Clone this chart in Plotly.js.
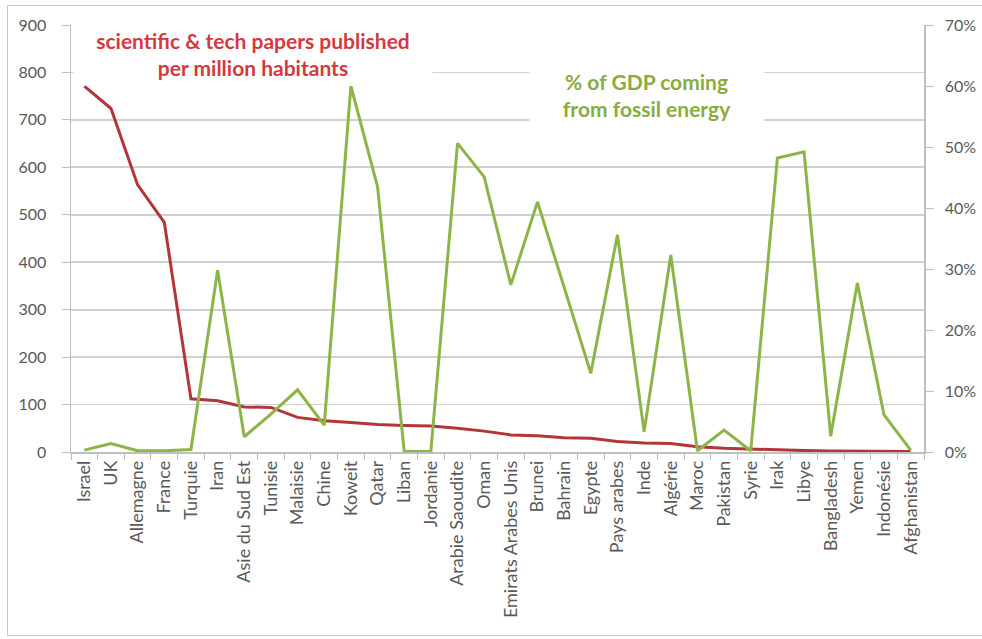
<!DOCTYPE html>
<html>
<head>
<meta charset="utf-8">
<script src="https://cdn.plot.ly/plotly-3.0.1.min.js"></script>
<style>
  html, body { margin: 0; padding: 0; background: #fff; }
  #wrap { position: relative; width: 982px; height: 639px; }
  #chart { position: absolute; left: 0; top: 0; width: 982px; height: 639px; }
  #frame { position: absolute; left: 7px; top: 5px; width: 985px; height: 629px;
           border: 1px solid #c8c8c8; pointer-events: none; }
</style>
</head>
<body>
<div id="wrap">
  <div id="chart"></div>
  <div id="frame"></div>
</div>
<script>
const countries = ["Israel", "UK", "Allemagne", "France", "Turquie", "Iran", "Asie du Sud Est", "Tunisie",
  "Malaisie", "Chine", "Koweit", "Qatar", "Liban", "Jordanie", "Arabie Saoudite", "Oman",
  "Emirats Arabes Unis", "Brunei", "Bahrain", "Egypte", "Pays arabes", "Inde", "Algérie", "Maroc",
  "Pakistan", "Syrie", "Irak", "Libye", "Bangladesh", "Yemen", "Indonésie", "Afghanistan"];

const papersPerMillion = [771, 724, 563, 484, 112, 108, 95, 94,
  73, 66, 62, 58, 56, 55, 50, 44,
  36, 34, 30, 29, 22, 19, 18, 11,
  8, 6, 4, 3, 2, 2, 1, 1];

const fossilGdpShare = [0.003, 0.014, 0.002, 0.002, 0.004, 0.298, 0.025, 0.062,
  0.102, 0.044, 0.600, 0.435, 0.001, 0.001, 0.506, 0.451,
  0.274, 0.410, 0.270, 0.129, 0.356, 0.033, 0.323, 0.002,
  0.036, 0.002, 0.482, 0.492, 0.026, 0.277, 0.061, 0.003];

const leftTicks = [0, 100, 200, 300, 400, 500, 600, 700, 800, 900];
const rightTicks = [0, 0.1, 0.2, 0.3, 0.4, 0.5, 0.6, 0.7];

const redLine = "#b23639";
const greenLine = "#8db449";
const tickGray = "#595959";
const font = "Lato, 'Open Sans', sans-serif";

const traces = [
  {
    x: countries, y: papersPerMillion, type: "scatter", mode: "lines",
    line: { color: redLine, width: 3 }, yaxis: "y", hoverinfo: "x+y"
  },
  {
    x: countries, y: fossilGdpShare, type: "scatter", mode: "lines",
    line: { color: greenLine, width: 3 }, yaxis: "y2", hoverinfo: "x+y"
  }
];

const layout = {
  width: 982, height: 639,
  margin: { l: 71, r: 58, t: 25, b: 187, pad: 0 },
  paper_bgcolor: "#ffffff", plot_bgcolor: "#ffffff",
  showlegend: false,
  font: { family: font, color: tickGray, size: 16 },
  xaxis: {
    type: "category",
    tickangle: -90,
    tickson: "boundaries",
    ticks: "outside", ticklen: 6, tickcolor: "#bfbfbf", tickwidth: 1,
    showline: true, linecolor: "#bfbfbf", linewidth: 1.5,
    showgrid: false, zeroline: false,
    tickfont: { family: font, size: 18, color: tickGray },
    range: [-0.5, countries.length - 0.5]
  },
  yaxis: {
    range: [0, 900], tickvals: leftTicks,
    ticks: "outside", ticklen: 8, tickcolor: "#bfbfbf",
    showline: true, linecolor: "#bfbfbf", linewidth: 1.5,
    showgrid: true, gridcolor: "#d0d0d0", gridwidth: 1.8,
    zeroline: false,
    tickfont: { family: font, size: 16, color: tickGray },
    ticklabelstandoff: 12
  },
  yaxis2: {
    overlaying: "y", side: "right",
    range: [0, 0.7], tickvals: rightTicks, tickformat: ".0%",
    ticks: "outside", ticklen: 8, tickcolor: "#bfbfbf",
    showline: true, linecolor: "#bfbfbf", linewidth: 1.5,
    showgrid: false, zeroline: false,
    tickfont: { family: font, size: 16, color: tickGray },
    ticklabelstandoff: 8
  },
  annotations: [
    {
      xref: "paper", yref: "paper", x: 0.213, y: 0.933,
      xanchor: "center", yanchor: "middle",
      text: "<b>scientific & tech papers published<br>per million habitants</b>",
      showarrow: false, align: "center",
      font: { family: font, size: 21, color: "#d23a40" },
      bgcolor: "#ffffff", width: 356, height: 60
    },
    {
      xref: "paper", yref: "paper", x: 0.675, y: 0.836,
      xanchor: "center", yanchor: "middle",
      text: "<b>% of GDP coming<br>from fossil energy</b>",
      showarrow: false, align: "center",
      font: { family: font, size: 21, color: "#8aab3f" },
      bgcolor: "#ffffff", width: 232, height: 60
    }
  ]
};

Plotly.newPlot("chart", traces, layout, { displayModeBar: false, staticPlot: true });
</script>
</body>
</html>
